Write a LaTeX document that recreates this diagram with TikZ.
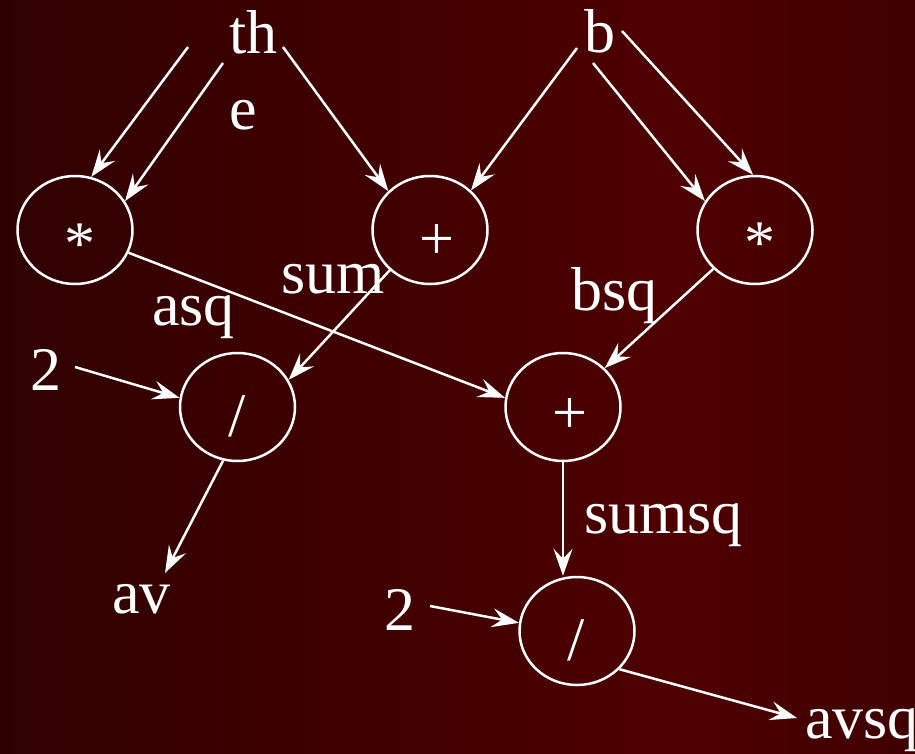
\documentclass[tikz,border=0pt]{standalone}
\usepackage{fontspec}
\setmainfont{Liberation Serif}
\usetikzlibrary{shapes.geometric,arrows.meta}
\definecolor{bgL}{HTML}{300000}
\definecolor{bgM}{HTML}{4E0000}
\definecolor{bgR}{HTML}{400000}
\pgfdeclarehorizontalshading{bgshade}{100bp}{color(0bp)=(bgL); color(25bp)=(bgL); color(62bp)=(bgM); color(75bp)=(bgR); color(100bp)=(bgR)}
\begin{document}
\begin{tikzpicture}[x=1pt,y=-1pt,
  op/.style={ellipse, draw=white, line width=2.5pt, minimum width=115pt, minimum height=108pt, inner sep=0pt},
  sym/.style={text=white, inner sep=0pt, anchor=base, font=\fontsize{62}{74}\selectfont},
  lbl/.style={text=white, inner sep=0pt, anchor=base west, font=\fontsize{62}{74}\selectfont},
  arr/.style={draw=white, line width=2.5pt, -{Stealth[length=27pt,width=19pt,inset=10pt]}}]
\useasboundingbox (0,0) rectangle (915,754);
\shade[shading=bgshade] (0,0) rectangle (915,754);
% operator nodes
\node[op] (m1) at (75,230) {};
\node[op] (p1) at (430,230) {};
\node[op] (m2) at (755,230) {};
\node[op] (d1) at (237.5,407) {};
\node[op] (p2) at (563,407) {};
\node[op] (d2) at (577,631) {};
% operator symbols
\node[sym] (m1s) at (80,264) {*};
\node[sym] (p1s) at (437,259) {+};
\node[sym] (m2s) at (760,263) {*};
\node[sym] (d1s) at (237,436) {/};
\node[sym] (p2s) at (570,433) {+};
\node[sym] (d2s) at (576,660) {/};
% labels
\node[lbl] (th) at (229,54) {th};
\node[lbl] (e) at (229,130) {e};
\node[lbl] (b) at (584,53) {b};
\node[lbl] (sum) at (281,293) {sum};
\node[lbl] (asq) at (152,325) {asq};
\node[lbl] (bsq) at (571,310) {bsq};
\node[lbl] (two1) at (30,390) {2};
\node[lbl] (av) at (112,613) {av};
\node[lbl] (two2) at (384,630) {2};
\node[lbl] (sumsq) at (584,533) {sumsq};
\node[lbl] (avsq) at (805,738) {avsq};
% connectors
\draw[arr] ([shift={(-41,-7)}]th.base west) -- (m1.73);
\draw[arr] ([shift={(-6,9)}]th.base west) -- (m1.30);
\draw[arr] ([shift={(54,-7)}]th.base west) -- (p1.137);
\draw[arr] ([shift={(-7,-5)}]b.base west) -- (p1.44);
\draw[arr] ([shift={(9,10)}]b.base west) -- (m2.150);
\draw[arr] ([shift={(38,-22)}]b.base west) -- (m2.92);
\draw[arr] (m1.337) -- (p2.171);
\draw[arr] (p1.225) -- (d1.28);
\draw[arr] (m2.223) -- (p2.43);
\draw[arr] ([shift={(45,-23)}]two1.base west) -- (d1.171);
\draw[arr] (d1.255) -- ([shift={(53,-40)}]av.base west);
\draw[arr] (p2.south) -- (p2.south |- d2.north);
\draw[arr] ([shift={(46,-24)}]two2.base west) -- (d2.172);
\draw[arr] (d2.318) -- ([shift={(-8,-20)}]avsq.base west);
\end{tikzpicture}
\end{document}
